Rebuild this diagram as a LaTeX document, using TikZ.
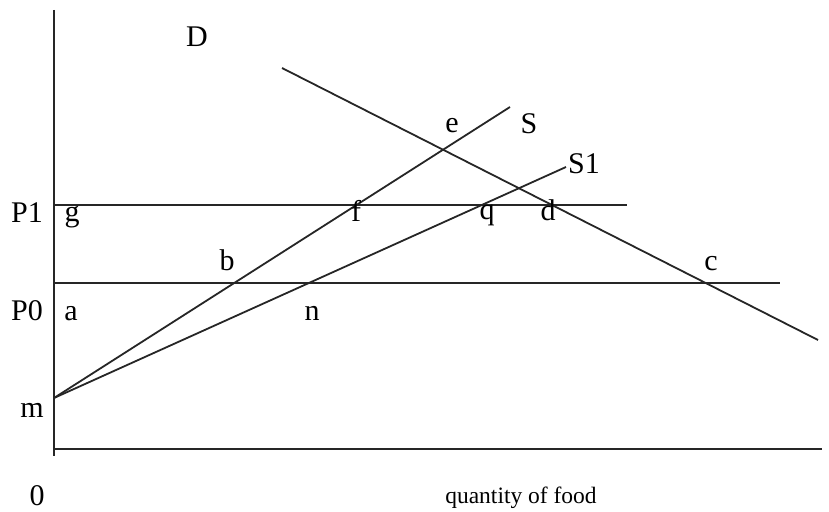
\documentclass[tikz,border=0pt]{standalone}
\usepackage{fontspec}
\setmainfont{Liberation Serif}
\begin{document}
\begin{tikzpicture}[x=1pt,y=-1pt,
  curve/.style={line width=1.8pt,black!85},
  lbl/.style={anchor=base,inner sep=0pt,font=\fontsize{30}{32}\selectfont},
  axlbl/.style={anchor=base,inner sep=0pt,font=\fontsize{23.5}{25}\selectfont}]
\useasboundingbox (0,0) rectangle (829,511);
% coordinates
\coordinate (ytop) at (54,10);
\coordinate (ybot) at (54,456);
\coordinate (xl) at (54,449);
\coordinate (xr) at (822,449);
\coordinate (m) at (54,398);
\coordinate (Send) at (510,107);
\coordinate (S1end) at (566,167);
\coordinate (Dstart) at (282,68);
\coordinate (Dend) at (818,340);
\coordinate (P1l) at (54,205);
\coordinate (P1r) at (627,205);
\coordinate (P0l) at (54,283);
\coordinate (P0r) at (780,283);
% axes
\draw[curve] (ytop) -- (ybot);
\draw[curve] (xl) -- (xr);
% price lines
\draw[curve] (P1l) -- (P1r);
\draw[curve] (P0l) -- (P0r);
% supply and demand
\draw[curve] (m) -- (Send);
\draw[curve] (m) -- (S1end);
\draw[curve] (Dstart) -- (Dend);
% labels
\node[lbl] (lD) at (197,46) {D};
\node[lbl] (le) at (452,132) {e};
\node[lbl] (lS) at (529,133) {S};
\node[lbl] (lS1) at (584,173) {S1};
\node[lbl] (lP1) at (27,222) {P1};
\node[lbl] (lg) at (72,221) {g};
\node[lbl] (lf) at (356,221) {f};
\node[lbl] (lq) at (487,219) {q};
\node[lbl] (ld) at (548,220) {d};
\node[lbl] (lb) at (227,270) {b};
\node[lbl] (lc) at (711,270) {c};
\node[lbl] (lP0) at (27,320) {P0};
\node[lbl] (la) at (71,320) {a};
\node[lbl] (ln) at (312,320) {n};
\node[lbl] (lm) at (32,417) {m};
\node[lbl] (l0) at (37,505) {0};
\node[axlbl] (lqf) at (521,503) {quantity of food};
\end{tikzpicture}
\end{document}
